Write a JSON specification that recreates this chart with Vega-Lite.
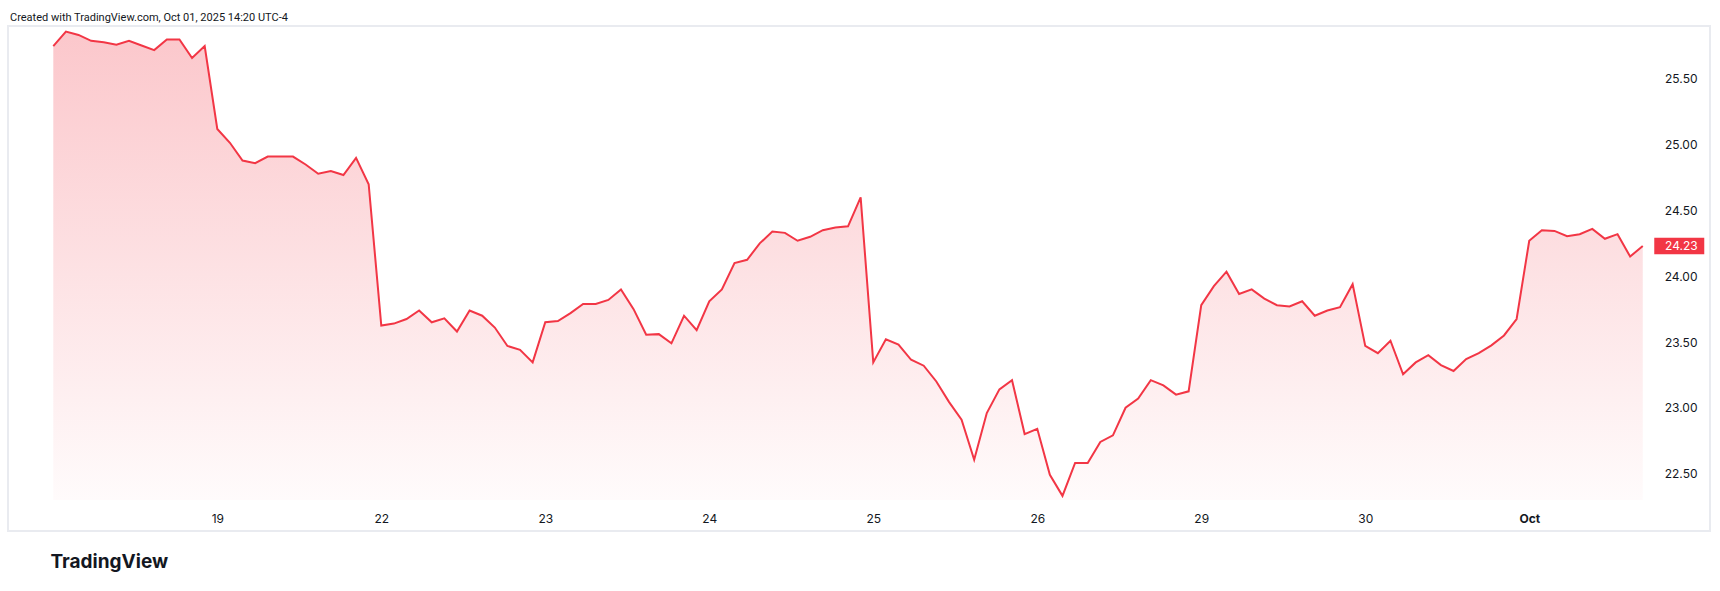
{
  "$schema": "https://vega.github.io/schema/vega-lite/v6.json",
  "width": 1702,
  "height": 505,
  "autosize": {"type": "none"},
  "padding": {"left": 8, "top": 26, "right": 10, "bottom": 60},
  "background": "white",
  "config": {"view": {"stroke": "#e9ebf0", "strokeWidth": 2}, "font": "Inter"},
  "title": {"text": "Created with TradingView.com, Oct 01, 2025 14:20 UTC-4", "anchor": "start", "frame": "group", "font": "Roboto", "fontSize": 11, "fontWeight": "normal", "color": "#131722", "offset": 6, "baseline": "alphabetic", "dx": 2, "dy": 12},
  "data": {"values": [
    {"t": "2025-09-18 09:30", "bar": 0, "price": 25.75},
    {"t": "2025-09-18 10:00", "bar": 1, "price": 25.86},
    {"t": "2025-09-18 10:30", "bar": 2, "price": 25.835},
    {"t": "2025-09-18 11:00", "bar": 3, "price": 25.79},
    {"t": "2025-09-18 11:30", "bar": 4, "price": 25.78},
    {"t": "2025-09-18 12:00", "bar": 5, "price": 25.76},
    {"t": "2025-09-18 12:30", "bar": 6, "price": 25.79},
    {"t": "2025-09-18 13:00", "bar": 7, "price": 25.755},
    {"t": "2025-09-18 13:30", "bar": 8, "price": 25.72},
    {"t": "2025-09-18 14:00", "bar": 9, "price": 25.80},
    {"t": "2025-09-18 14:30", "bar": 10, "price": 25.80},
    {"t": "2025-09-18 15:00", "bar": 11, "price": 25.66},
    {"t": "2025-09-18 15:30", "bar": 12, "price": 25.75},
    {"t": "2025-09-19 09:30", "bar": 13, "price": 25.12},
    {"t": "2025-09-19 10:00", "bar": 14, "price": 25.015},
    {"t": "2025-09-19 10:30", "bar": 15, "price": 24.88},
    {"t": "2025-09-19 11:00", "bar": 16, "price": 24.86},
    {"t": "2025-09-19 11:30", "bar": 17, "price": 24.91},
    {"t": "2025-09-19 12:00", "bar": 18, "price": 24.91},
    {"t": "2025-09-19 12:30", "bar": 19, "price": 24.91},
    {"t": "2025-09-19 13:00", "bar": 20, "price": 24.85},
    {"t": "2025-09-19 13:30", "bar": 21, "price": 24.78},
    {"t": "2025-09-19 14:00", "bar": 22, "price": 24.80},
    {"t": "2025-09-19 14:30", "bar": 23, "price": 24.77},
    {"t": "2025-09-19 15:00", "bar": 24, "price": 24.90},
    {"t": "2025-09-19 15:30", "bar": 25, "price": 24.70},
    {"t": "2025-09-22 09:30", "bar": 26, "price": 23.625},
    {"t": "2025-09-22 10:00", "bar": 27, "price": 23.64},
    {"t": "2025-09-22 10:30", "bar": 28, "price": 23.675},
    {"t": "2025-09-22 11:00", "bar": 29, "price": 23.74},
    {"t": "2025-09-22 11:30", "bar": 30, "price": 23.65},
    {"t": "2025-09-22 12:00", "bar": 31, "price": 23.68},
    {"t": "2025-09-22 12:30", "bar": 32, "price": 23.58},
    {"t": "2025-09-22 13:00", "bar": 33, "price": 23.74},
    {"t": "2025-09-22 13:30", "bar": 34, "price": 23.70},
    {"t": "2025-09-22 14:00", "bar": 35, "price": 23.61},
    {"t": "2025-09-22 14:30", "bar": 36, "price": 23.47},
    {"t": "2025-09-22 15:00", "bar": 37, "price": 23.44},
    {"t": "2025-09-22 15:30", "bar": 38, "price": 23.345},
    {"t": "2025-09-23 09:30", "bar": 39, "price": 23.65},
    {"t": "2025-09-23 10:00", "bar": 40, "price": 23.66},
    {"t": "2025-09-23 10:30", "bar": 41, "price": 23.72},
    {"t": "2025-09-23 11:00", "bar": 42, "price": 23.79},
    {"t": "2025-09-23 11:30", "bar": 43, "price": 23.79},
    {"t": "2025-09-23 12:00", "bar": 44, "price": 23.82},
    {"t": "2025-09-23 12:30", "bar": 45, "price": 23.90},
    {"t": "2025-09-23 13:00", "bar": 46, "price": 23.75},
    {"t": "2025-09-23 13:30", "bar": 47, "price": 23.555},
    {"t": "2025-09-23 14:00", "bar": 48, "price": 23.56},
    {"t": "2025-09-23 14:30", "bar": 49, "price": 23.49},
    {"t": "2025-09-23 15:00", "bar": 50, "price": 23.70},
    {"t": "2025-09-23 15:30", "bar": 51, "price": 23.59},
    {"t": "2025-09-24 09:30", "bar": 52, "price": 23.81},
    {"t": "2025-09-24 10:00", "bar": 53, "price": 23.90},
    {"t": "2025-09-24 10:30", "bar": 54, "price": 24.10},
    {"t": "2025-09-24 11:00", "bar": 55, "price": 24.125},
    {"t": "2025-09-24 11:30", "bar": 56, "price": 24.25},
    {"t": "2025-09-24 12:00", "bar": 57, "price": 24.34},
    {"t": "2025-09-24 12:30", "bar": 58, "price": 24.33},
    {"t": "2025-09-24 13:00", "bar": 59, "price": 24.27},
    {"t": "2025-09-24 13:30", "bar": 60, "price": 24.30},
    {"t": "2025-09-24 14:00", "bar": 61, "price": 24.35},
    {"t": "2025-09-24 14:30", "bar": 62, "price": 24.37},
    {"t": "2025-09-24 15:00", "bar": 63, "price": 24.38},
    {"t": "2025-09-24 15:30", "bar": 64, "price": 24.60},
    {"t": "2025-09-25 09:30", "bar": 65, "price": 23.345},
    {"t": "2025-09-25 10:00", "bar": 66, "price": 23.52},
    {"t": "2025-09-25 10:30", "bar": 67, "price": 23.48},
    {"t": "2025-09-25 11:00", "bar": 68, "price": 23.365},
    {"t": "2025-09-25 11:30", "bar": 69, "price": 23.32},
    {"t": "2025-09-25 12:00", "bar": 70, "price": 23.20},
    {"t": "2025-09-25 12:30", "bar": 71, "price": 23.045},
    {"t": "2025-09-25 13:00", "bar": 72, "price": 22.91},
    {"t": "2025-09-25 13:30", "bar": 73, "price": 22.605},
    {"t": "2025-09-25 14:00", "bar": 74, "price": 22.96},
    {"t": "2025-09-25 14:30", "bar": 75, "price": 23.14},
    {"t": "2025-09-25 15:00", "bar": 76, "price": 23.21},
    {"t": "2025-09-25 15:30", "bar": 77, "price": 22.80},
    {"t": "2025-09-26 09:30", "bar": 78, "price": 22.84},
    {"t": "2025-09-26 10:00", "bar": 79, "price": 22.49},
    {"t": "2025-09-26 10:30", "bar": 80, "price": 22.33},
    {"t": "2025-09-26 11:00", "bar": 81, "price": 22.58},
    {"t": "2025-09-26 11:30", "bar": 82, "price": 22.58},
    {"t": "2025-09-26 12:00", "bar": 83, "price": 22.74},
    {"t": "2025-09-26 12:30", "bar": 84, "price": 22.79},
    {"t": "2025-09-26 13:00", "bar": 85, "price": 23.00},
    {"t": "2025-09-26 13:30", "bar": 86, "price": 23.07},
    {"t": "2025-09-26 14:00", "bar": 87, "price": 23.21},
    {"t": "2025-09-26 14:30", "bar": 88, "price": 23.17},
    {"t": "2025-09-26 15:00", "bar": 89, "price": 23.10},
    {"t": "2025-09-26 15:30", "bar": 90, "price": 23.125},
    {"t": "2025-09-29 09:30", "bar": 91, "price": 23.78},
    {"t": "2025-09-29 10:00", "bar": 92, "price": 23.925},
    {"t": "2025-09-29 10:30", "bar": 93, "price": 24.035},
    {"t": "2025-09-29 11:00", "bar": 94, "price": 23.865},
    {"t": "2025-09-29 11:30", "bar": 95, "price": 23.90},
    {"t": "2025-09-29 12:00", "bar": 96, "price": 23.83},
    {"t": "2025-09-29 12:30", "bar": 97, "price": 23.78},
    {"t": "2025-09-29 13:00", "bar": 98, "price": 23.77},
    {"t": "2025-09-29 13:30", "bar": 99, "price": 23.81},
    {"t": "2025-09-29 14:00", "bar": 100, "price": 23.70},
    {"t": "2025-09-29 14:30", "bar": 101, "price": 23.74},
    {"t": "2025-09-29 15:00", "bar": 102, "price": 23.765},
    {"t": "2025-09-29 15:30", "bar": 103, "price": 23.94},
    {"t": "2025-09-30 09:30", "bar": 104, "price": 23.47},
    {"t": "2025-09-30 10:00", "bar": 105, "price": 23.415},
    {"t": "2025-09-30 10:30", "bar": 106, "price": 23.51},
    {"t": "2025-09-30 11:00", "bar": 107, "price": 23.255},
    {"t": "2025-09-30 11:30", "bar": 108, "price": 23.345},
    {"t": "2025-09-30 12:00", "bar": 109, "price": 23.40},
    {"t": "2025-09-30 12:30", "bar": 110, "price": 23.325},
    {"t": "2025-09-30 13:00", "bar": 111, "price": 23.28},
    {"t": "2025-09-30 13:30", "bar": 112, "price": 23.37},
    {"t": "2025-09-30 14:00", "bar": 113, "price": 23.415},
    {"t": "2025-09-30 14:30", "bar": 114, "price": 23.475},
    {"t": "2025-09-30 15:00", "bar": 115, "price": 23.55},
    {"t": "2025-09-30 15:30", "bar": 116, "price": 23.675},
    {"t": "2025-10-01 09:30", "bar": 117, "price": 24.27},
    {"t": "2025-10-01 10:00", "bar": 118, "price": 24.35},
    {"t": "2025-10-01 10:30", "bar": 119, "price": 24.345},
    {"t": "2025-10-01 11:00", "bar": 120, "price": 24.305},
    {"t": "2025-10-01 11:30", "bar": 121, "price": 24.32},
    {"t": "2025-10-01 12:00", "bar": 122, "price": 24.36},
    {"t": "2025-10-01 12:30", "bar": 123, "price": 24.285},
    {"t": "2025-10-01 13:00", "bar": 124, "price": 24.32},
    {"t": "2025-10-01 13:30", "bar": 125, "price": 24.15},
    {"t": "2025-10-01 14:00", "bar": 126, "price": 24.23}
  ]},
  "encoding": {
    "x": {
      "field": "bar", "type": "quantitative",
      "scale": {"domain": [-3.591, 131.33], "nice": false, "zero": false},
      "axis": {
        "orient": "bottom", "offset": -13, "values": [13, 26, 39, 52, 65, 78, 91, 104, 117],
        "labelExpr": "['19','22','23','24','25','26','29','30','Oct'][round((datum.value-13)/13)]",
        "ticks": false, "tickSize": 0, "domain": false, "grid": false,
        "labelPadding": 0, "labelBaseline": "middle", "labelFont": "Inter", "labelFontSize": 12,
        "labelColor": "#131722",
        "labelFontWeight": {"condition": {"test": "datum.value == 117", "value": "bold"}, "value": "normal"},
        "labelOverlap": false, "labelFlush": false,
        "title": "TradingView", "titleFont": "Inter", "titleFontSize": 19, "titleFontWeight": "bold",
        "titleColor": "#131722", "titleAnchor": "start", "titleAlign": "left", "titleX": 42, "titleY": 43,
        "titleBaseline": "middle"
      }
    },
    "y": {
      "field": "price", "type": "quantitative",
      "scale": {"domain": [22.063, 25.903], "nice": false, "zero": false},
      "axis": {
        "orient": "right", "offset": -13, "values": [22.5, 23, 23.5, 24, 24.5, 25, 25.5], "format": ".2f",
        "ticks": false, "tickSize": 0, "domain": false, "grid": false,
        "labelPadding": 0, "labelAlign": "right", "labelBaseline": "middle",
        "labelFont": "Inter", "labelFontSize": 12, "labelColor": "#131722",
        "labelOverlap": false, "labelFlush": false, "title": null
      }
    }
  },
  "layer": [
    {
      "mark": {"type": "area", "color": {"gradient": "linear", "x1": 0, "y1": 0, "x2": 0, "y2": 1,
        "stops": [{"offset": 0, "color": "rgba(242,54,69,0.28)"}, {"offset": 1, "color": "rgba(242,54,69,0.02)"}]}},
      "encoding": {"y2": {"datum": 22.298}}
    },
    {"mark": {"type": "line", "color": "#F23645", "strokeWidth": 2}},
    {
      "transform": [{"filter": "datum.bar == 126"}],
      "mark": {"type": "point", "shape": "M-1,-0.33H1V0.33H-1Z", "filled": true, "color": "#F23645", "opacity": 1, "size": 2500, "strokeWidth": 0, "xOffset": 36.5}
    },
    {
      "transform": [{"filter": "datum.bar == 126"}],
      "mark": {"type": "text", "align": "right", "baseline": "middle", "xOffset": 55, "color": "white", "font": "Inter", "fontSize": 12},
      "encoding": {"text": {"field": "price", "type": "quantitative", "format": ".2f"}}
    }
  ]
}
